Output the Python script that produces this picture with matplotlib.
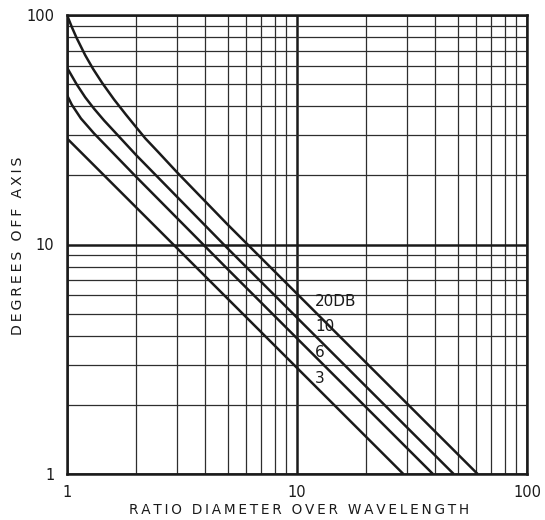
"""Beam angle off axis versus aperture diameter in wavelengths (log-log)."""

import matplotlib

matplotlib.use("Agg")
import matplotlib.pyplot as plt
from matplotlib.ticker import FixedLocator, NullFormatter, LogLocator

INK = "#1a1a1a"
GRID = "#2e2e2e"

# values
db3_x = [1, 2, 5, 10, 29]
db3_y = [29, 14.5, 5.8, 2.9, 1]

db6_x = [1, 1.05, 1.15, 1.31, 2, 5, 10, 39]
db6_y = [44.8, 40.6, 35.4, 30.5, 19.7, 7.8, 3.9, 1]

db10_x = [1, 1.1, 1.2, 1.31, 1.45, 1.6, 2, 5, 10, 48]
db10_y = [59, 50, 43.8, 39.1, 34.7, 31.2, 24.5, 9.6, 4.8, 1]

db20_x = [1, 1.05, 1.1, 1.2, 1.3, 1.42, 1.6, 1.8, 2.0, 2.19, 2.5, 3, 5, 10, 61]
db20_y = [100, 88.5, 79.6, 66.8, 58.1, 50.7, 42.9, 36.9, 32.4, 29.0, 25.2, 20.7, 12.2, 6.1, 1]

curve_labels = ["3", "6", "10", "20DB"]
label_x = [12.0, 12.0, 12.0, 12.0]
label_y = [2.6, 3.4, 4.4, 5.65]

decade_ticks = [1, 10, 100]
decade_labels = ["1", "10", "100"]


def spaced(s):
    # stencil lettering is widely tracked; thin spaces between letters
    return "\u2009".join(s)


plt.rcParams["font.family"] = ["DejaVu Sans"]

fig = plt.figure(figsize=(5.45, 5.2), dpi=100)
ax = fig.add_axes([67 / 545, 46 / 520, 460 / 545, 459 / 520])
ax.set_xscale("log")
ax.set_yscale("log")
ax.set_xlim(1, 100)
ax.set_ylim(1, 100)

ax.xaxis.set_major_locator(FixedLocator(decade_ticks))
ax.yaxis.set_major_locator(FixedLocator(decade_ticks))
ax.xaxis.set_minor_locator(LogLocator(base=10, subs=range(2, 10)))
ax.yaxis.set_minor_locator(LogLocator(base=10, subs=range(2, 10)))
ax.xaxis.set_minor_formatter(NullFormatter())
ax.yaxis.set_minor_formatter(NullFormatter())
ax.set_xticklabels(decade_labels)
ax.set_yticklabels(decade_labels)

ax.grid(which="major", color=INK, lw=1.8)
ax.grid(which="minor", color=GRID, lw=0.9)
ax.tick_params(which="both", length=0, colors=INK, labelsize=10.5)
ax.tick_params(axis="x", pad=8)
ax.tick_params(axis="y", pad=9)
for s in ax.spines.values():
    s.set_linewidth(1.8)
    s.set_color(INK)

for xs, ys in ((db3_x, db3_y), (db6_x, db6_y), (db10_x, db10_y), (db20_x, db20_y)):
    ax.plot(xs, ys, color=INK, lw=1.8, solid_capstyle="butt", solid_joinstyle="round", zorder=3)

for txt, x, y in zip(curve_labels, label_x, label_y):
    ax.text(x, y, txt, ha="left", va="center", fontsize=11, color=INK, zorder=4)

fig.text(299 / 545, 1 - 510 / 520, spaced("RATIO DIAMETER OVER WAVELENGTH"),
         ha="center", va="center", fontsize=9.8, color=INK)
fig.text(18 / 545, 1 - 246 / 520, spaced("DEGREES OFF AXIS"),
         ha="center", va="center", rotation=90, fontsize=10.2, color=INK)

fig.savefig("out.png", dpi=100, facecolor="white")
